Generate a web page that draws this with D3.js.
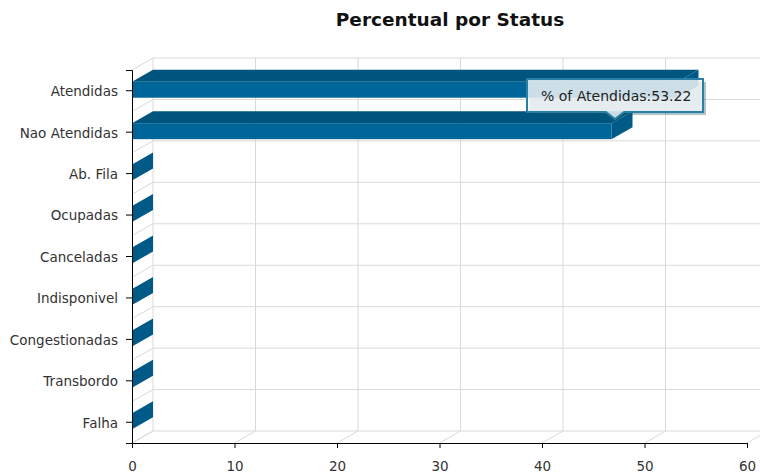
<!DOCTYPE html>
<html><head><meta charset="utf-8">
<script src="https://cdn.jsdelivr.net/npm/d3@7"></script>
<style>body{margin:0;background:#fff;}svg{display:block;font-family:"DejaVu Sans",Verdana,sans-serif;}</style>
</head><body><svg id="c" width="760" height="476"></svg>
<script>
const categories = ["Atendidas","Nao Atendidas","Ab. Fila","Ocupadas","Canceladas","Indisponivel","Congestionadas","Transbordo","Falha"];
const values = [53.22,46.78,0,0,0,0,0,0,0];
const xTicks = [0,10,20,30,40,50,60];
const title = "Percentual por Status";
const tooltipText = "% of Atendidas:53.22";

const svg = d3.select("#c");
const pLeft=132, pRight=747, pTop=70, pBottom=443, dx=21, dy=-12;
const x = d3.scaleLinear().domain([0,60]).range([pLeft,pRight]);
const y = d3.scaleBand().domain(categories).range([pTop,pBottom]);
const grid="#d9d9d9";

const g = svg.append("g");
const bounds = categories.map(c=>y(c)).concat([pBottom]);
bounds.forEach(b=>{
  g.append("line").attr("x1",pLeft+dx).attr("x2",x(60)+dx).attr("y1",b+dy).attr("y2",b+dy).attr("stroke",grid);
  g.append("line").attr("x1",pLeft).attr("x2",pLeft+dx).attr("y1",b).attr("y2",b+dy).attr("stroke",grid);
});
xTicks.forEach(t=>{
  g.append("line").attr("x1",x(t)+dx).attr("x2",x(t)+dx).attr("y1",pTop+dy).attr("y2",pBottom+dy).attr("stroke",grid);
  g.append("line").attr("x1",x(t)).attr("x2",x(t)+dx).attr("y1",pBottom).attr("y2",pBottom+dy).attr("stroke",grid);
});

const barH = 16;
const front="#006699", topC="#00557f", side="#005a88";
categories.forEach((c,i)=>{
  const yc = y(c)+y.bandwidth()/2 - 1;
  const y0 = yc - barH/2, y1 = yc + barH/2;
  const x0 = x(0), x1 = x(values[i]);
  const bg = svg.append("g");
  if (x1 > x0) {
    bg.append("path").attr("d",`M${x0},${y0}L${x0+dx},${y0+dy}L${x1+dx},${y0+dy}L${x1},${y0}Z`).attr("fill",topC);
    bg.append("rect").attr("x",x0).attr("y",y0).attr("width",x1-x0).attr("height",barH).attr("fill",front);
  }
  bg.append("path").attr("d",`M${x1},${y0}L${x1+dx},${y0+dy}L${x1+dx},${y1+dy}L${x1},${y1}Z`).attr("fill",side);
});

const xAxis = d3.axisBottom(x).tickValues(xTicks).tickSize(5).tickPadding(13);
const ax = svg.append("g").attr("transform",`translate(0,${pBottom})`).call(xAxis);
ax.select(".domain").attr("stroke","#000").attr("d",`M${pLeft},0.5H${pRight}`);
ax.selectAll("text").attr("font-size",13.5).attr("fill","#333").attr("font-family","DejaVu Sans");
const yAxis = d3.axisLeft(y).tickSize(6).tickPadding(8);
const ay = svg.append("g").attr("transform",`translate(${pLeft},0)`).call(yAxis);
ay.selectAll("text").attr("font-size",13.5).attr("fill","#333").attr("font-family","DejaVu Sans").attr("dy","0.4em");

svg.append("text").attr("x",450).attr("y",26).attr("text-anchor","middle").attr("font-weight","bold").attr("font-size",18.5).attr("fill","#111").text(title);

const tx=527, ty=79, tw=176, th=33, tipX=615;
const tt = svg.append("g");
tt.append("path").attr("d",`M${tx+3},${ty+3}h${tw}v${th}H${tipX+9}l-9,7l-9,-7H${tx+3}Z`).attr("fill","#1d4f66").attr("opacity",0.35);
tt.append("path").attr("d",`M${tx},${ty}h${tw}v${th}H${tipX+9}l-9,7l-9,-7H${tx}Z`).attr("fill","#eef4f8").attr("fill-opacity",0.85).attr("stroke","#2a7fa6").attr("stroke-width",2);
tt.append("text").attr("x",tx+14).attr("y",ty+22).attr("font-size",14).attr("fill","#222").text(tooltipText);
</script></body></html>
